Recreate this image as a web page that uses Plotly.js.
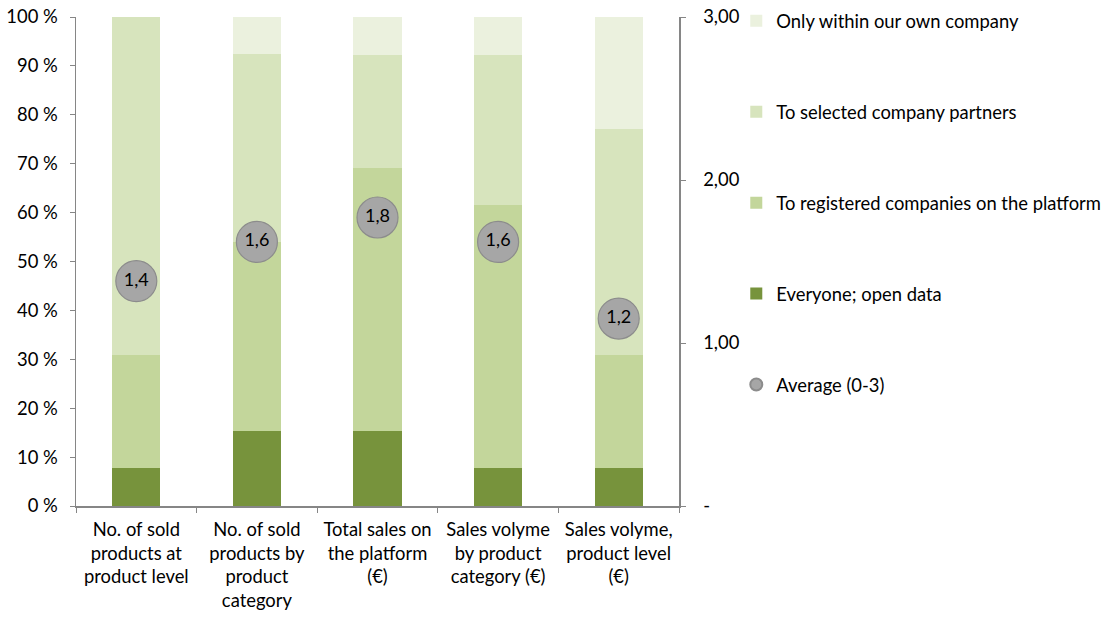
<!DOCTYPE html>
<html>
<head>
<meta charset="utf-8">
<script src="https://cdn.plot.ly/plotly-3.0.1.min.js"></script>
<style>html,body{margin:0;padding:0;background:#fff;}#chart{width:1111px;height:617px;}</style>
</head>
<body>
<div id="chart"></div>
<script>
const categories = [
  "No. of sold<br>products at<br>product level",
  "No. of sold<br>products by<br>product<br>category",
  "Total sales on<br>the platform<br>(€)",
  "Sales volyme<br>by product<br>category (€)",
  "Sales volyme,<br>product level<br>(€)"
];
const everyone   = [7.7, 15.4, 15.4, 7.7, 7.7];
const registered = [23.1, 38.5, 53.8, 53.8, 23.1];
const selected   = [69.2, 38.5, 23.1, 30.8, 46.2];
const ownCompany = [0.0, 7.7, 7.7, 7.7, 23.1];
const average    = [1.38, 1.62, 1.77, 1.62, 1.15];
const averageLabels = ["1,4", "1,6", "1,8", "1,6", "1,2"];
const leftTickVals = [0,10,20,30,40,50,60,70,80,90,100];
const leftTickText = ["0 %","10 %","20 %","30 %","40 %","50 %","60 %","70 %","80 %","90 %","100 %"];
const rightTickVals = [0, 1, 2, 3];
const rightTickText = ["-", "1,00", "2,00", "3,00"];

const FONT = "Lato, 'Open Sans', sans-serif";
const FS = 18.4;

const barTrace = (name, y, color, rank) => ({
  type: "bar", name: name, x: categories, y: y,
  marker: {color: color, line: {width: 0}},
  width: 0.4, legendgroup: name, legendrank: rank,
  hoverinfo: "y+name"
});

const data = [
  barTrace("Everyone; open data", everyone, "#77933C", 4),
  barTrace("To registered companies on the platform", registered, "#C3D69B", 3),
  barTrace("To selected company partners", selected, "#D7E4BD", 2),
  barTrace("Only within our own company", ownCompany, "#EBF1DE", 1),
  {
    type: "scatter", mode: "markers+text", name: "Average (0-3)",
    x: categories, y: average, yaxis: "y2",
    text: averageLabels, textposition: "middle center",
    textfont: {family: FONT, size: 18, color: "#000"},
    marker: {size: 41, color: "#A6A6A6", line: {color: "#8C8C8C", width: 1.2}},
    legendgroup: "avg", legendrank: 5
  }
];

const layout = {
  width: 1111, height: 617,
  margin: {l: 76, r: 432, t: 17, b: 111, autoexpand: false},
  paper_bgcolor: "#fff", plot_bgcolor: "#fff",
  font: {family: FONT, size: FS, color: "#000"},
  barmode: "stack",
  showlegend: true,
  legend: {
    x: 1.095, xanchor: "left", y: 1.03, yanchor: "top",
    tracegroupgap: 64, itemsizing: "constant", maxheight: 600,
    font: {family: FONT, size: FS, color: "#000"},
    bgcolor: "rgba(0,0,0,0)", itemwidth: 30
  },
  xaxis: {
    type: "category", range: [-0.5, 4.5], tickangle: 0,
    showline: true, linecolor: "#868686", linewidth: 1.5,
    ticks: "outside", tickson: "boundaries", ticklen: 5, tickcolor: "#868686",
    showgrid: false, zeroline: false, ticklabelstandoff: 6,
    tickfont: {family: FONT, size: FS}
  },
  yaxis: {
    range: [0, 100], tickvals: leftTickVals, ticktext: leftTickText,
    showline: true, linecolor: "#868686", linewidth: 1.5,
    ticks: "outside", ticklen: 5, tickcolor: "#868686",
    showgrid: false, zeroline: false, ticklabelstandoff: 8,
    tickfont: {family: FONT, size: FS}
  },
  yaxis2: {
    overlaying: "y", side: "right", range: [0, 3],
    tickvals: rightTickVals, ticktext: rightTickText,
    showline: true, linecolor: "#868686", linewidth: 1.5,
    ticks: "outside", ticklen: 5, tickcolor: "#868686",
    showgrid: false, zeroline: false, ticklabelstandoff: 14,
    tickfont: {family: FONT, size: FS}
  }
};

Plotly.newPlot("chart", data, layout, {displayModeBar: false, staticPlot: true});
</script>
</body>
</html>
